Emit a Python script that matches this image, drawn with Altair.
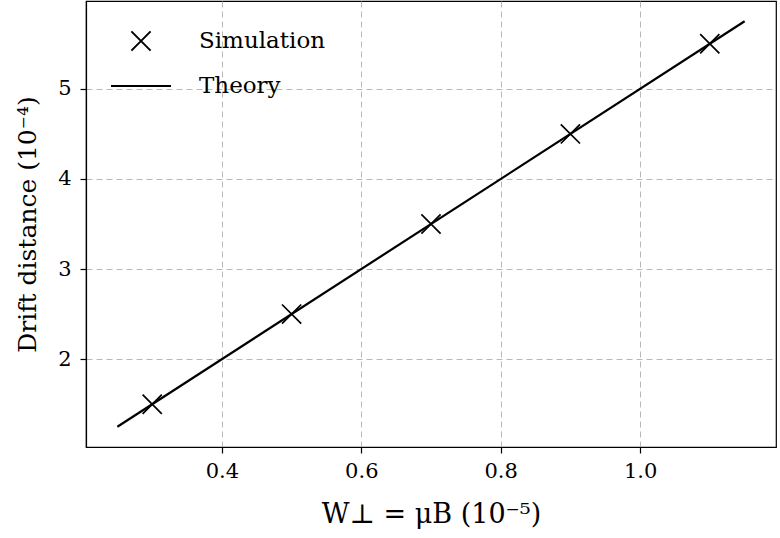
import altair as alt
import pandas as pd

sim_x = [0.3, 0.5, 0.7, 0.9, 1.1]
sim_y = [1.5, 2.5, 3.5, 4.5, 5.5]
theory_x = [0.25, 1.15]
theory_y = [1.25, 5.75]
series_names = ["Simulation", "Theory"]
x_ticks = [0.4, 0.6, 0.8, 1.0]
y_ticks = [2, 3, 4, 5]

sim_df = pd.DataFrame({"x": sim_x, "y": sim_y, "series": series_names[0]})
th_df = pd.DataFrame({"x": theory_x, "y": theory_y, "series": series_names[1]})

FONT = "DejaVu Serif"
cross = "M-0.32,-0.32L0.32,0.32M-0.32,0.32L0.32,-0.32"

xs = alt.Scale(domain=[0.205, 1.195], nice=False, zero=False)
ys = alt.Scale(domain=[1.025, 5.975], nice=False, zero=False)

xaxis = alt.Axis(values=x_ticks, format=".1f", title="W⊥ = μB (10⁻⁵)")
yaxis = alt.Axis(values=y_ticks, format="d", title="Drift distance (10⁻⁴)")

line = alt.Chart(th_df).mark_line(color="black", strokeWidth=2.2).encode(
    x=alt.X("x:Q", scale=xs, axis=xaxis),
    y=alt.Y("y:Q", scale=ys, axis=yaxis),
)

pts = alt.Chart(sim_df).mark_point(filled=False, color="black", strokeWidth=1.7, size=3600, opacity=1).encode(
    x=alt.X("x:Q", scale=xs, axis=xaxis),
    y=alt.Y("y:Q", scale=ys, axis=yaxis),
    shape=alt.Shape(
        "series:N",
        scale=alt.Scale(domain=series_names, range=[cross, "stroke"]),
        legend=alt.Legend(
            title=None,
            orient="none",
            legendX=24,
            legendY=9,
            symbolSize=3600,
            symbolStrokeColor="black",
            symbolStrokeWidth=2,
            symbolFillColor="transparent",
            labelFont=FONT,
            labelFontSize=23,
            labelColor="black",
            labelOffset=27,
            rowPadding=-23,
            padding=0,
        ),
    ),
)

chart = (
    alt.layer(pts, line)
    .properties(
        width=690,
        height=446,
        autosize=alt.AutoSizeParams(type="none"),
        padding={"left": 86, "top": 1, "right": 4, "bottom": 91},
        background="white",
    )
    .configure_view(stroke="black", strokeWidth=1.2)
    .configure_axis(
        labelFont=FONT,
        labelFontSize=21,
        labelColor="black",
        titleFont=FONT,
        titleFontWeight="normal",
        titleColor="black",
        domainColor="black",
        domainWidth=1.2,
        tickColor="black",
        tickSize=6,
        tickWidth=1.2,
        grid=True,
        gridColor="#b0b0b0",
        gridDash=[6, 4],
        gridWidth=0.9,
    )
    .configure_axisX(labelPadding=7, titlePadding=20, titleFontSize=27)
    .configure_axisY(labelPadding=9, titlePadding=17, titleFontSize=25)
)

chart.save("out.html", embed_options={"renderer": "svg", "actions": False})
